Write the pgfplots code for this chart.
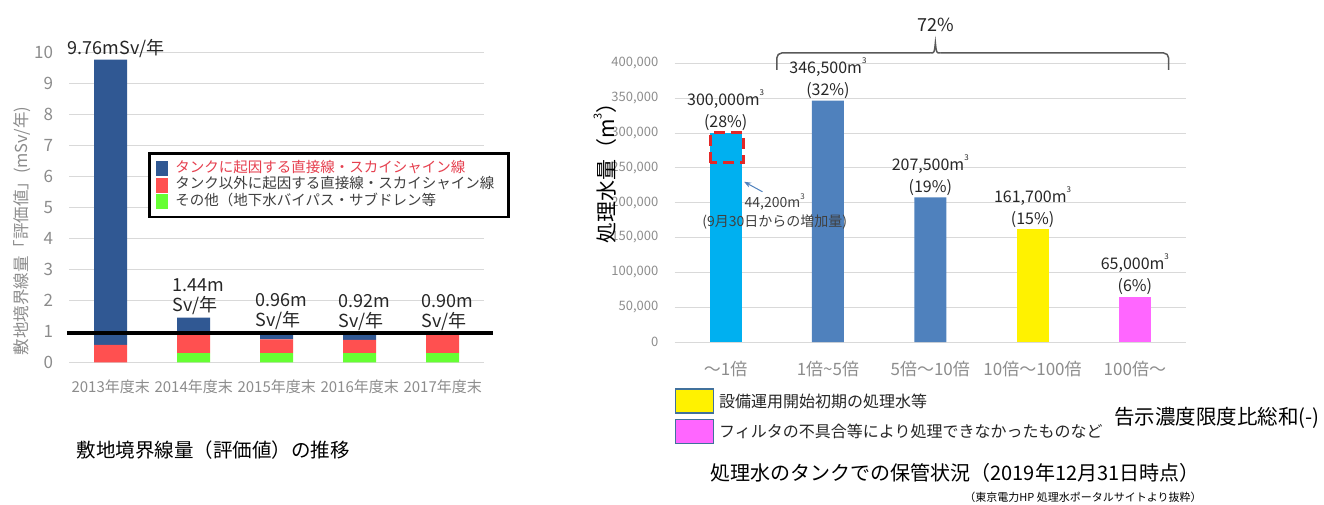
\documentclass[border=0pt]{standalone}
\usepackage{fontspec}
\setmainfont{Noto Sans CJK JP}
\usepackage{pgfplots}
\pgfplotsset{compat=1.18}
\usetikzlibrary{arrows.meta}

\definecolor{tankblue}{HTML}{305893}
\definecolor{otherred}{HTML}{FF5050}
\definecolor{othergreen}{HTML}{66FF33}
\definecolor{gridgray}{HTML}{D9D9D9}
\definecolor{tickgray}{HTML}{8C8C8C}
\definecolor{legred}{HTML}{E6404F}
\definecolor{legtext}{HTML}{404040}
\definecolor{labeltext}{HTML}{262626}
\definecolor{lightblue}{HTML}{00B0F0}
\definecolor{steelblue}{HTML}{4F81BD}
\definecolor{pinkish}{HTML}{FF66FF}
\definecolor{boxedge}{HTML}{41719C}
\definecolor{dashred}{HTML}{E32828}
\definecolor{bracegray}{HTML}{595959}

% small superscript 3 as in the source image
\newcommand\mcube{m\raisebox{0.62em}{\fontsize{8}{8}\selectfont 3}}

\pgfplotsset{
  leftgeom/.style={at={(69.2pt,141.7pt)}, anchor=south west, scale only axis,
    width=415pt, height=310pt, xmin=-0.5, xmax=4.5, ymin=0, ymax=10},
  plain/.style={axis line style={draw=none}, major tick length=0pt,
    ymajorgrids, grid style={gridgray, line width=0.8pt},
    tick label style={tickgray}, clip=false,
    /pgf/number format/assume math mode=true},
}
\tikzset{
  lbla/.style={anchor=south west, xshift=-43pt, yshift=2pt, inner sep=0pt,
    font=\fontsize{18}{20}\selectfont, text=labeltext},
  lblb/.style={anchor=south west, xshift=-21pt, yshift=3pt, inner sep=0pt, align=left,
    font=\fontsize{18}{20}\selectfont, text=labeltext},
  rlbl/.style={anchor=south, yshift=2pt, inner sep=0pt, align=center,
    font=\fontsize{16}{22}\selectfont, text=labeltext},
}

\begin{document}
\begin{tikzpicture}
\path[use as bounding box] (0pt,0pt) rectangle (1324pt,504pt);

% ---- left: boundary dose
\begin{axis}[leftgeom, plain,
  ybar stacked, bar width=33pt,
  xtick={0,...,4},
  xticklabels={2013年度末,2014年度末,2015年度末,2016年度末,2017年度末},
  ytick={0,...,10},
  yticklabel style={font=\fontsize{17}{17}\selectfont, inner sep=0pt, xshift=-16pt},
  xticklabel style={font=\fontsize{15}{15}\selectfont, inner sep=0pt, yshift=-17pt},
  reverse legend, legend cell align=left,
  legend image code/.code={\fill[#1] (0pt,-7.5pt) rectangle (12pt,7.5pt);},
  legend style={at={(0.19,0.678)}, anchor=north west, draw=black, line width=2.5pt,
    inner xsep=7pt, inner ysep=7pt, row sep=0pt,
    nodes={inner xsep=7pt, inner ysep=0pt, text height=12pt, text depth=4.5pt,
      font=\fontsize{14.5}{16}\selectfont, text=legtext}},
]
\addplot[fill=othergreen, draw=none] coordinates {(0,0) (1,0.30) (2,0.30) (3,0.30) (4,0.30)};
\addlegendentry{その他（地下水バイパス・サブドレン等}
\addplot[fill=otherred, draw=none] coordinates {(0,0.56) (1,0.58) (2,0.44) (3,0.42) (4,0.58)};
\addlegendentry{タンク以外に起因する直接線・スカイシャイン線}
\addplot[fill=tankblue, draw=none] coordinates {(0,9.20) (1,0.56) (2,0.22) (3,0.20) (4,0.02)};
\addlegendentry{\textcolor{legred}{タンクに起因する直接線・スカイシャイン線}}
\node[lbla] at (axis cs:0,9.76) {9.76mSv/年};
\node[lblb] at (axis cs:1,1.44) {1.44m\\Sv/年};
\node[lblb] at (axis cs:2,0.96) {0.96m\\Sv/年};
\node[lblb] at (axis cs:3,0.92) {0.92m\\Sv/年};
\node[lblb] at (axis cs:4,0.90) {0.90m\\Sv/年};
\end{axis}

% reference line drawn over the bars
\begin{axis}[leftgeom, hide axis, clip=false]
\addplot[black, line width=3.5pt] coordinates {(-0.527,0.95) (4.61,0.95)};
\end{axis}

\node[rotate=90, text=tickgray, font=\fontsize{16.5}{16.5}\selectfont] at (22pt,273pt)
  {敷地境界線量「評価値」(mSv/年)};
\node[font=\fontsize{19.5}{20}\selectfont] at (213pt,54pt) {敷地境界線量（評価値）の推移};

% ---- right: treated water in tanks
\begin{axis}[at={(674.5pt,162pt)}, anchor=south west, scale only axis,
  width=511.5pt, height=278.7pt, plain,
  ybar, bar width=32pt, bar shift=0pt,
  xmin=-0.5, xmax=4.5, ymin=0, ymax=400000,
  ytick={0,50000,...,400000}, scaled y ticks=false,
  /pgf/number format/fixed, /pgf/number format/1000 sep={,},
  yticklabel style={font=\fontsize{13}{13}\selectfont, inner sep=0pt, xshift=-16pt},
  xtick={0,...,4},
  xticklabels={～1倍, 1倍\textasciitilde5倍, 5倍～10倍, 10倍～100倍, 100倍～},
  xticklabel style={font=\fontsize{17}{17}\selectfont, inner sep=0pt, yshift=-19.5pt},
  legend cell align=left,
  legend image code/.code={\draw[#1, draw=boxedge, line width=1.5pt] (0pt,-12pt) rectangle (38pt,12pt);},
  legend style={at={(0.0,-0.166)}, anchor=north west, draw=none, inner sep=0pt,
    row sep=5pt,
    nodes={inner xsep=5pt, inner ysep=0pt, font=\fontsize{16}{16}\selectfont, text=labeltext}},
]
\addplot[fill=lightblue, draw=none, forget plot] coordinates {(0,300000)};
\addplot[fill=steelblue, draw=none, forget plot] coordinates {(1,346500) (2,207500)};
\addplot[fill=yellow, draw=none] coordinates {(3,161700)};
\addlegendentry{設備運用開始初期の処理水等}
\addplot[fill=pinkish, draw=none] coordinates {(4,65000)};
\addlegendentry{フィルタの不具合等により処理できなかったものなど}

\node[rlbl] at (axis cs:0,300000) {300,000\mcube\\(28\%)};
\node[rlbl] at (axis cs:1,346500) {346,500\mcube\\(32\%)};
\node[rlbl] at (axis cs:2,207500) {207,500\mcube\\(19\%)};
\node[rlbl] at (axis cs:3,161700) {161,700\mcube\\(15\%)};
\node[rlbl] at (axis cs:4,65000) {65,000\mcube\\(6\%)};

\draw[dashred, line width=3pt, dash pattern=on 11pt off 6pt]
  (axis cs:-0.15,257000) rectangle (axis cs:0.17,300000);
\draw[-{Stealth[length=7pt]}, steelblue, line width=1pt]
  (axis cs:0.36,215600) -- (axis cs:0.18,230000);
\node[align=center, text=legtext, font=\fontsize{14}{19}\selectfont]
  at (axis cs:0.48,187500) {44,200\mcube\\(9月30日からの増加量)};

% brace over the four categories above 1x
\draw[bracegray, line width=1.5pt, rounded corners=5pt]
  (axis cs:0.50,390400) -- (axis cs:0.50,414800) -- (axis cs:2.00,414800);
\draw[bracegray, line width=1.5pt, rounded corners=5pt]
  (axis cs:4.33,390400) -- (axis cs:4.33,414800) -- (axis cs:2.10,414800);
\draw[bracegray, line width=1.5pt]
  (axis cs:2.00,414800) .. controls (axis cs:2.04,414800) .. (axis cs:2.05,429200)
  .. controls (axis cs:2.06,414800) .. (axis cs:2.10,414800);
\end{axis}

\node[font=\fontsize{18}{18}\selectfont, text=labeltext] at (936pt,479pt) {72\%};
\node[rotate=90, font=\fontsize{21}{21}\selectfont] at (605pt,336pt) {処理水量（m\raisebox{0.6em}{\fontsize{11}{11}\selectfont 3}）};
\node[font=\fontsize{20.5}{21}\selectfont] at (1217pt,86pt) {告示濃度限度比総和(-)};
\node[font=\fontsize{20}{20}\selectfont] at (955pt,31pt) {処理水のタンクでの保管状況（2019年12月31日時点）};
\node[font=\fontsize{11}{11}\selectfont] at (1083pt,7pt) {（東京電力HP 処理水ポータルサイトより抜粋）};
\end{tikzpicture}
\end{document}
